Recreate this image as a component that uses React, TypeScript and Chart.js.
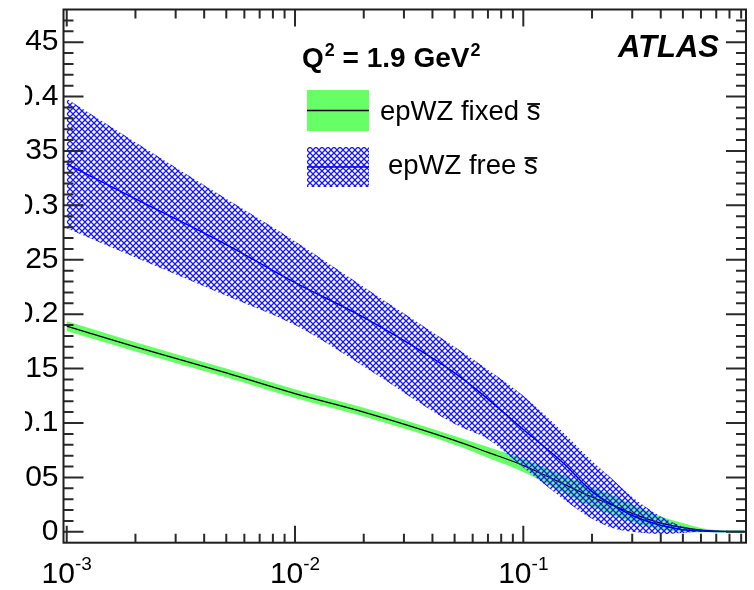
import React, { useEffect, useRef } from 'react';
import { Chart, registerables } from 'chart.js';
Chart.register(...registerables);

// ---- data ----
const X_VALUES = [0.001, 0.002, 0.005, 0.01, 0.02, 0.05, 0.07, 0.1, 0.15, 0.2, 0.25, 0.3, 0.4, 0.5, 0.6, 0.7, 0.8, 0.93];
const FIXED_CENTRAL = [0.189, 0.170, 0.146, 0.127, 0.110, 0.084, 0.073, 0.061, 0.044, 0.032, 0.024, 0.017, 0.008, 0.004, 0.0015, 0.0006, 0.0003, 0.0002];
const FIXED_UPPER = [0.1935, 0.1742, 0.150, 0.131, 0.114, 0.088, 0.078, 0.067, 0.052, 0.041, 0.033, 0.025, 0.014, 0.008, 0.0035, 0.0016, 0.0013, 0.0012];
const FIXED_LOWER = [0.1845, 0.1658, 0.142, 0.123, 0.106, 0.080, 0.068, 0.055, 0.036, 0.023, 0.015, 0.009, 0.002, 0.000, -0.0005, -0.0004, -0.0007, -0.0008];
const FREE_CENTRAL = [0.338, 0.306, 0.264, 0.229, 0.197, 0.146, 0.122, 0.094, 0.063, 0.037, 0.024, 0.015, 0.006, 0.002, 0.0008, 0.0003, 0.0002, 0.0002];
const FREE_UPPER = [0.398, 0.358, 0.306, 0.267, 0.225, 0.170, 0.149, 0.125, 0.091, 0.065, 0.047, 0.032, 0.014, 0.005, 0.002, 0.001, 0.0005, 0.0003];
const FREE_LOWER = [0.279, 0.252, 0.217, 0.190, 0.152, 0.099, 0.085, 0.059, 0.030, 0.012, 0.003, 0.000, -0.002, -0.001, 0, 0, 0, 0];

const Y_TICKS = [0, 0.05, 0.1, 0.15, 0.2, 0.25, 0.3, 0.35, 0.4, 0.45];
const Y_TICK_LABELS = ['0', '0.05', '0.1', '0.15', '0.2', '0.25', '0.3', '0.35', '0.4', '0.45'];
const X_TICKS = [0.001, 0.01, 0.1];
const X_TICK_EXPONENTS = ['-3', '-2', '-1'];

const LEGEND_FIXED = 'epWZ fixed ';
const LEGEND_FREE = 'epWZ free ';
const TITLE_Q = 'Q';
const TITLE_MID = ' = 1.9 GeV';
const ATLAS_LABEL = 'ATLAS';

const FONT = '"Liberation Sans", Arial, Helvetica, sans-serif';
const GREEN = 'rgb(102,255,102)';
const OFFSET = 25; // canvas starts 25px in from the page's left edge

export default function App() {
  const ref = useRef<HTMLCanvasElement>(null);

  useEffect(() => {
    const canvas = ref.current!;
    const tile = document.createElement('canvas');
    tile.width = 6;
    tile.height = 6;
    const tctx = tile.getContext('2d')!;
    tctx.strokeStyle = 'rgb(25,25,255)';
    tctx.lineWidth = 1.25;
    for (const o of [-6, 0, 6]) {
      tctx.beginPath(); tctx.moveTo(o, 0); tctx.lineTo(o + 6, 6); tctx.stroke();
      tctx.beginPath(); tctx.moveTo(o + 6, 0); tctx.lineTo(o, 6); tctx.stroke();
    }
    const hatch = canvas.getContext('2d')!.createPattern(tile, 'repeat')!;

    const pts = (ys: number[]) => X_VALUES.map((x, i) => ({ x, y: ys[i] }));

    const decor = {
      id: 'rootDecor',
      afterDraw(chart: any) {
        const { ctx, chartArea: a, scales } = chart;
        const xs = scales.x, ys = scales.y;
        ctx.save();
        // ticks
        ctx.strokeStyle = '#2a2a2a';
        ctx.lineWidth = 2;
        ctx.beginPath();
        for (let k = 0; k <= 47; k++) {
          const py = ys.getPixelForValue(k / 100);
          const len = k % 5 === 0 ? 20 : 10;
          ctx.moveTo(a.left, py); ctx.lineTo(a.left + len, py);
          ctx.moveTo(a.right, py); ctx.lineTo(a.right - len, py);
        }
        for (let d = -4; d <= 0; d++) {
          for (let m = 1; m <= 9; m++) {
            const v = m * Math.pow(10, d);
            if (v < xs.min || v > xs.max) continue;
            const px = xs.getPixelForValue(v);
            const len = m === 1 ? 17 : 9;
            ctx.moveTo(px, a.bottom); ctx.lineTo(px, a.bottom - len);
            ctx.moveTo(px, a.top); ctx.lineTo(px, a.top + len);
          }
        }
        ctx.stroke();
        // frame
        ctx.strokeStyle = '#1e1e1e';
        ctx.strokeRect(a.left, a.top, a.right - a.left, a.bottom - a.top);

        // x labels 10^n
        ctx.fillStyle = '#000';
        ctx.textBaseline = 'alphabetic';
        ctx.textAlign = 'left';
        X_TICKS.forEach((v, i) => {
          const px = xs.getPixelForValue(v);
          ctx.font = `30px ${FONT}`;
          const w1 = ctx.measureText('10').width;
          ctx.font = `19px ${FONT}`;
          const w2 = ctx.measureText(X_TICK_EXPONENTS[i]).width;
          const sx = px - (w1 + w2) / 2;
          ctx.font = `30px ${FONT}`;
          ctx.fillText('10', sx, 583);
          ctx.font = `19px ${FONT}`;
          ctx.fillText(X_TICK_EXPONENTS[i], sx + w1, 570);
        });

        // title Q^2 = 1.9 GeV^2
        let tx = 302 - OFFSET;
        ctx.font = `bold 28px ${FONT}`;
        ctx.fillText(TITLE_Q, tx, 67);
        tx += ctx.measureText(TITLE_Q).width;
        ctx.font = `bold 18px ${FONT}`;
        ctx.fillText('2', tx + 1, 56);
        tx += ctx.measureText('2').width + 1;
        ctx.font = `bold 28px ${FONT}`;
        ctx.fillText(TITLE_MID, tx, 67);
        tx += ctx.measureText(TITLE_MID).width;
        ctx.font = `bold 18px ${FONT}`;
        ctx.fillText('2', tx + 1, 56);

        // ATLAS
        ctx.font = `italic bold 31px ${FONT}`;
        ctx.fillText(ATLAS_LABEL, 618 - OFFSET, 57);

        // legend
        const bx = 307 - OFFSET, bw = 62;
        ctx.fillStyle = GREEN;
        ctx.fillRect(bx, 90, bw, 41);
        ctx.strokeStyle = '#000';
        ctx.lineWidth = 1.5;
        ctx.beginPath(); ctx.moveTo(bx, 110.5); ctx.lineTo(bx + bw, 110.5); ctx.stroke();
        ctx.fillStyle = hatch;
        ctx.fillRect(bx, 147, bw, 40);
        ctx.strokeStyle = 'rgb(0,0,255)';
        ctx.lineWidth = 1.5;
        ctx.beginPath(); ctx.moveTo(bx, 167); ctx.lineTo(bx + bw, 167); ctx.stroke();

        const drawSbar = (prefix: string, x0: number, base: number) => {
          ctx.font = `27.5px ${FONT}`;
          ctx.fillStyle = '#000';
          ctx.fillText(prefix, x0, base);
          const sx = x0 + ctx.measureText(prefix).width;
          ctx.fillText('s', sx, base);
          const sw = ctx.measureText('s').width;
          ctx.strokeStyle = '#000';
          ctx.lineWidth = 1.8;
          ctx.beginPath(); ctx.moveTo(sx + 0.5, base - 16); ctx.lineTo(sx + sw - 0.5, base - 16); ctx.stroke();
        };
        drawSbar(LEGEND_FIXED, 380 - OFFSET, 120);
        drawSbar(LEGEND_FREE, 388 - OFFSET, 174);
        ctx.restore();
      },
    };

    const chart = new Chart(canvas, {
      type: 'line',
      data: {
        datasets: [
          { data: pts(FIXED_LOWER), order: 6, borderWidth: 0, borderColor: 'transparent', pointRadius: 0, cubicInterpolationMode: 'monotone', fill: false },
          { data: pts(FIXED_UPPER), order: 5, borderWidth: 0, borderColor: 'transparent', pointRadius: 0, cubicInterpolationMode: 'monotone', fill: '-1', backgroundColor: GREEN },
          { data: pts(FIXED_CENTRAL), order: 4, borderWidth: 1.2, borderColor: '#000', pointRadius: 0, cubicInterpolationMode: 'monotone', fill: false },
          { data: pts(FREE_LOWER), order: 3, borderWidth: 0, borderColor: 'transparent', pointRadius: 0, cubicInterpolationMode: 'monotone', fill: false },
          { data: pts(FREE_UPPER), order: 2, borderWidth: 0, borderColor: 'transparent', pointRadius: 0, cubicInterpolationMode: 'monotone', fill: '-1', backgroundColor: hatch },
          { data: pts(FREE_CENTRAL), order: 1, borderWidth: 1.5, borderColor: 'rgb(0,0,255)', pointRadius: 0, cubicInterpolationMode: 'monotone', fill: false },
        ] as any,
      },
      options: {
        responsive: false,
        animation: false,
        events: [],
        layout: { padding: { top: 9.5, right: 8, left: 0, bottom: 0 } },
        plugins: { legend: { display: false }, tooltip: { enabled: false } },
        scales: {
          x: {
            type: 'logarithmic',
            min: 0.000968,
            max: 0.945,
            ticks: { display: false },
            grid: { display: false, drawTicks: false },
            border: { display: false },
            afterFit: (s: any) => { s.height = 47.3; s.paddingLeft = 0; s.paddingRight = 0; },
          },
          y: {
            type: 'linear',
            min: -0.01,
            max: 0.48,
            afterBuildTicks: (s: any) => { s.ticks = Y_TICKS.map((v) => ({ value: v })); },
            ticks: {
              autoSkip: false,
              padding: 5,
              color: '#000',
              font: { family: FONT, size: 30 },
              callback: (v: any) => {
                const i = Y_TICKS.findIndex((t) => Math.abs(t - Number(v)) < 1e-9);
                return i >= 0 ? Y_TICK_LABELS[i] : '';
              },
            },
            grid: { display: false, drawTicks: false, tickLength: 0 },
            border: { display: false },
            afterFit: (s: any) => { s.width = 38.5; s.paddingTop = 0; s.paddingBottom = 0; },
          },
        },
      } as any,
      plugins: [decor],
    });
    return () => chart.destroy();
  }, []);

  return (
    <div style={{ position: 'fixed', left: 0, top: 0, width: 754, height: 590, background: '#fff', overflow: 'hidden' }}>
      <canvas
        ref={ref}
        width={754 - OFFSET}
        height={590}
        style={{ position: 'absolute', left: OFFSET, top: 0, width: 754 - OFFSET, height: 590 }}
      />
    </div>
  );
}
